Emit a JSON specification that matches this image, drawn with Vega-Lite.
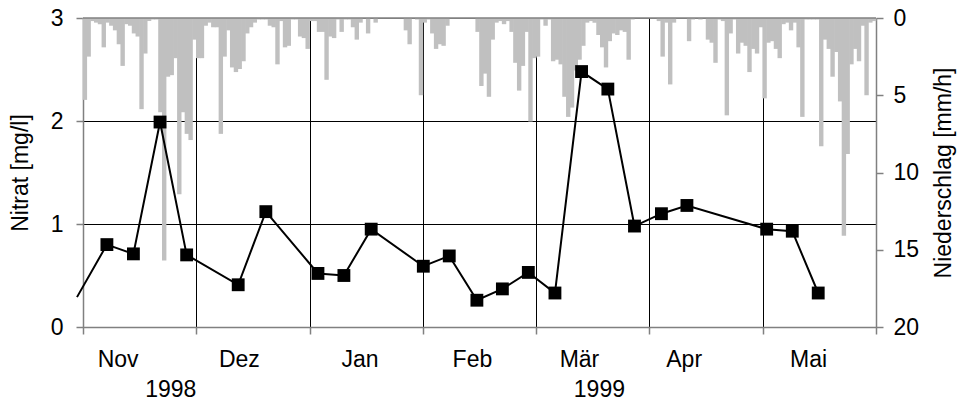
{
  "$schema": "https://vega.github.io/schema/vega-lite/v6.json",
  "width": 793,
  "height": 309,
  "autosize": {"type": "none"},
  "padding": {"left": 83, "top": 18, "right": 82, "bottom": 78},
  "config": {
    "view": {"stroke": "#808080", "strokeWidth": 1},
    "axis": {
      "labelFont": "Liberation Sans",
      "titleFont": "Liberation Sans",
      "labelFontSize": 23,
      "titleFontSize": 23,
      "labelColor": "black",
      "titleColor": "black",
      "titleFontWeight": "normal",
      "labelFlush": false,
      "labelOverlap": false
    }
  },
  "datasets": {
    "rain": [
      {"x": 0.0167, "p": 5.3}, {"x": 0.05, "p": 2.5}, {"x": 0.0833, "p": 0.2}, {"x": 0.1167, "p": 0.3}, {"x": 0.15, "p": 0.4},
      {"x": 0.1833, "p": 1.9}, {"x": 0.2167, "p": 0.3}, {"x": 0.25, "p": 0.5}, {"x": 0.2833, "p": 0.8}, {"x": 0.3167, "p": 1.7},
      {"x": 0.35, "p": 3.1}, {"x": 0.3833, "p": 0.4}, {"x": 0.4167, "p": 0.5}, {"x": 0.45, "p": 1.0}, {"x": 0.4833, "p": 1.2},
      {"x": 0.5167, "p": 5.9}, {"x": 0.55, "p": 2.3}, {"x": 0.5833, "p": 0.2}, {"x": 0.6167, "p": 0.1}, {"x": 0.65, "p": 0.1},
      {"x": 0.6833, "p": 6.1}, {"x": 0.7167, "p": 15.7}, {"x": 0.75, "p": 3.8}, {"x": 0.7833, "p": 3.7}, {"x": 0.8167, "p": 2.6},
      {"x": 0.85, "p": 11.4}, {"x": 0.8833, "p": 6.1}, {"x": 0.9167, "p": 7.5}, {"x": 0.95, "p": 7.9}, {"x": 0.9833, "p": 1.4},
      {"x": 1.0167, "p": 2.6}, {"x": 1.05, "p": 2.6}, {"x": 1.0833, "p": 0.5}, {"x": 1.1167, "p": 0.3}, {"x": 1.15, "p": 0.6},
      {"x": 1.1833, "p": 0.6}, {"x": 1.2167, "p": 7.5}, {"x": 1.25, "p": 2.5}, {"x": 1.2833, "p": 0.8}, {"x": 1.3167, "p": 3.2},
      {"x": 1.35, "p": 3.5}, {"x": 1.3833, "p": 3.3}, {"x": 1.4167, "p": 2.8}, {"x": 1.45, "p": 1.0}, {"x": 1.4833, "p": 0.6},
      {"x": 1.5167, "p": 0.3}, {"x": 1.55, "p": 0.1}, {"x": 1.5833, "p": 0.1}, {"x": 1.6167, "p": 0.1}, {"x": 1.65, "p": 0.5},
      {"x": 1.6833, "p": 0.6}, {"x": 1.7167, "p": 3.0}, {"x": 1.75, "p": 0.2}, {"x": 1.7833, "p": 1.9}, {"x": 1.8167, "p": 1.8},
      {"x": 1.85, "p": 0.1}, {"x": 1.8833, "p": 0.1}, {"x": 1.9167, "p": 1.2}, {"x": 1.95, "p": 1.3}, {"x": 1.9833, "p": 2.0},
      {"x": 2.0167, "p": 0.2}, {"x": 2.05, "p": 0.2}, {"x": 2.0833, "p": 0.9}, {"x": 2.1167, "p": 0.9}, {"x": 2.15, "p": 4.0},
      {"x": 2.1833, "p": 1.2}, {"x": 2.2167, "p": 1.3}, {"x": 2.25, "p": 0.1}, {"x": 2.2833, "p": 0.9}, {"x": 2.3167, "p": 0.1},
      {"x": 2.35, "p": 0.1}, {"x": 2.3833, "p": 0.6}, {"x": 2.4167, "p": 1.4}, {"x": 2.45, "p": 0.3}, {"x": 2.5167, "p": 1.0},
      {"x": 2.5833, "p": 0.3}, {"x": 2.85, "p": 0.8}, {"x": 2.8833, "p": 1.7}, {"x": 2.95, "p": 0.1}, {"x": 2.9833, "p": 5.0},
      {"x": 3.0167, "p": 0.3}, {"x": 3.05, "p": 0.1}, {"x": 3.0833, "p": 1.0}, {"x": 3.1167, "p": 2.0}, {"x": 3.15, "p": 1.7},
      {"x": 3.1833, "p": 1.8}, {"x": 3.2167, "p": 0.5}, {"x": 3.4833, "p": 0.9}, {"x": 3.5167, "p": 4.4}, {"x": 3.55, "p": 3.6},
      {"x": 3.5833, "p": 5.1}, {"x": 3.6167, "p": 1.4}, {"x": 3.65, "p": 0.3}, {"x": 3.6833, "p": 0.2}, {"x": 3.7167, "p": 0.4},
      {"x": 3.75, "p": 0.2}, {"x": 3.7833, "p": 0.9}, {"x": 3.8167, "p": 2.9}, {"x": 3.85, "p": 4.7}, {"x": 3.8833, "p": 3.1},
      {"x": 3.9167, "p": 0.9}, {"x": 3.95, "p": 6.7}, {"x": 3.9833, "p": 2.6},
      {"x": 4.0167, "p": 2.5}, {"x": 4.05, "p": 0.1}, {"x": 4.0833, "p": 0.5}, {"x": 4.1167, "p": 0.1}, {"x": 4.15, "p": 2.8},
      {"x": 4.1833, "p": 2.7}, {"x": 4.2167, "p": 3.0}, {"x": 4.25, "p": 5.1}, {"x": 4.2833, "p": 6.4}, {"x": 4.3167, "p": 5.8},
      {"x": 4.35, "p": 3.4}, {"x": 4.3833, "p": 2.7}, {"x": 4.4167, "p": 1.8}, {"x": 4.45, "p": 0.3}, {"x": 4.4833, "p": 0.2},
      {"x": 4.5167, "p": 0.3}, {"x": 4.55, "p": 1.1}, {"x": 4.5833, "p": 1.9}, {"x": 4.6167, "p": 3.2}, {"x": 4.65, "p": 1.5},
      {"x": 4.6833, "p": 1.0}, {"x": 4.7167, "p": 1.1}, {"x": 4.75, "p": 0.8}, {"x": 4.7833, "p": 0.9}, {"x": 4.8167, "p": 2.7},
      {"x": 4.85, "p": 0.1},
      {"x": 5.0833, "p": 0.2}, {"x": 5.1167, "p": 2.5}, {"x": 5.15, "p": 0.3}, {"x": 5.1833, "p": 4.3}, {"x": 5.2167, "p": 0.3},
      {"x": 5.35, "p": 1.5}, {"x": 5.3833, "p": 0.1}, {"x": 5.45, "p": 0.1}, {"x": 5.5167, "p": 1.4}, {"x": 5.55, "p": 1.6},
      {"x": 5.5833, "p": 2.9}, {"x": 5.6167, "p": 0.1}, {"x": 5.65, "p": 0.2}, {"x": 5.6833, "p": 6.3}, {"x": 5.7167, "p": 1.0},
      {"x": 5.75, "p": 0.1}, {"x": 5.7833, "p": 2.3}, {"x": 5.8167, "p": 1.6}, {"x": 5.85, "p": 1.8}, {"x": 5.8833, "p": 3.5},
      {"x": 5.9167, "p": 2.0}, {"x": 5.95, "p": 2.3}, {"x": 5.9833, "p": 0.6},
      {"x": 6.0167, "p": 5.2}, {"x": 6.05, "p": 1.6}, {"x": 6.0833, "p": 1.5}, {"x": 6.1167, "p": 2.0}, {"x": 6.15, "p": 2.6},
      {"x": 6.1833, "p": 0.4}, {"x": 6.2167, "p": 0.3}, {"x": 6.25, "p": 0.8}, {"x": 6.2833, "p": 0.3}, {"x": 6.3167, "p": 1.9},
      {"x": 6.35, "p": 6.4}, {"x": 6.3833, "p": 0.1}, {"x": 6.4167, "p": 0.1}, {"x": 6.45, "p": 0.1}, {"x": 6.4833, "p": 0.1},
      {"x": 6.5167, "p": 8.3}, {"x": 6.55, "p": 1.4}, {"x": 6.5833, "p": 2.0}, {"x": 6.6167, "p": 3.8}, {"x": 6.65, "p": 2.2},
      {"x": 6.6833, "p": 5.4}, {"x": 6.7167, "p": 14.1}, {"x": 6.75, "p": 8.8}, {"x": 6.7833, "p": 3.0}, {"x": 6.8167, "p": 2.0},
      {"x": 6.85, "p": 2.8}, {"x": 6.8833, "p": 0.5}, {"x": 6.9167, "p": 5.0}, {"x": 6.95, "p": 0.3}, {"x": 6.9833, "p": 0.2}
    ],
    "nitrat": [
      {"x": -0.053, "n": 0.29},
      {"x": 0.211, "n": 0.80},
      {"x": 0.445, "n": 0.71},
      {"x": 0.680, "n": 1.99},
      {"x": 0.915, "n": 0.70},
      {"x": 1.370, "n": 0.41},
      {"x": 1.614, "n": 1.12},
      {"x": 2.074, "n": 0.52},
      {"x": 2.303, "n": 0.50},
      {"x": 2.544, "n": 0.95},
      {"x": 3.004, "n": 0.59},
      {"x": 3.233, "n": 0.69},
      {"x": 3.477, "n": 0.26},
      {"x": 3.702, "n": 0.37},
      {"x": 3.931, "n": 0.53},
      {"x": 4.166, "n": 0.33},
      {"x": 4.401, "n": 2.48},
      {"x": 4.633, "n": 2.31},
      {"x": 4.868, "n": 0.98},
      {"x": 5.106, "n": 1.10},
      {"x": 5.331, "n": 1.18},
      {"x": 6.035, "n": 0.95},
      {"x": 6.261, "n": 0.93},
      {"x": 6.490, "n": 0.33}
    ]
  },
  "layer": [
    {
      "data": {"name": "rain"},
      "mark": {"type": "bar", "color": "#c0c0c0", "size": 4.4},
      "encoding": {
        "x": {
          "field": "x", "type": "quantitative",
          "scale": {"domain": [0, 7], "nice": false, "zero": false, "padding": 0},
          "axis": {
            "orient": "bottom", "values": [0, 1, 2, 3, 4, 5, 6, 7], "labels": false, "title": null,
            "tickSize": 7, "tickColor": "#808080", "tickWidth": 1.5,
            "domainColor": "#808080", "domainWidth": 1.5,
            "grid": true, "gridWidth": 1, "gridOpacity": 1,
            "gridColor": {"condition": {"test": "datum.value > 0 && datum.value < 7", "value": "black"}, "value": "transparent"}
          }
        },
        "y": {
          "field": "p", "type": "quantitative",
          "scale": {"domain": [0, 20], "reverse": true, "nice": false},
          "axis": {
            "orient": "right", "values": [0, 5, 10, 15, 20], "title": "Niederschlag [mm/h]",
            "titleAngle": 270, "titleBaseline": "top", "titlePadding": 14,
            "grid": false, "tickSize": 7, "tickColor": "#808080", "tickWidth": 1.5,
            "domainColor": "#808080", "domainWidth": 1.5, "labelPadding": 10
          }
        }
      }
    },
    {
      "data": {"name": "nitrat"},
      "mark": {"type": "line", "color": "black", "strokeWidth": 2},
      "encoding": {
        "x": {
          "field": "x", "type": "quantitative",
          "scale": {"domain": [0, 7], "nice": false, "zero": false, "padding": 0},
          "axis": {
            "orient": "bottom", "values": [0.306, 1.376, 2.441, 3.433, 4.378, 5.302, 6.4],
            "labelExpr": "['Nov','Dez','Jan','Feb','Mär','Apr','Mai'][floor(datum.value)]",
            "ticks": false, "domain": false, "grid": false, "title": null, "labelPadding": 21
          }
        },
        "y": {
          "field": "n", "type": "quantitative",
          "scale": {"domain": [0, 3], "nice": false},
          "axis": {
            "orient": "left", "values": [0, 1, 2, 3], "title": "Nitrat [mg/l]", "titlePadding": 18,
            "tickSize": 7, "tickColor": "#808080", "tickWidth": 1.5,
            "domainColor": "#808080", "domainWidth": 1.5, "labelPadding": 13,
            "grid": true, "gridWidth": 1, "gridOpacity": 1,
            "gridColor": {"condition": {"test": "datum.value > 0 && datum.value < 3", "value": "black"}, "value": "transparent"}
          }
        }
      }
    },
    {
      "data": {"name": "nitrat"},
      "transform": [{"filter": "datum.x >= 0"}],
      "mark": {"type": "point", "shape": "square", "filled": true, "color": "black", "opacity": 1, "size": 165},
      "encoding": {
        "x": {
          "field": "x", "type": "quantitative",
          "scale": {"domain": [0, 7], "nice": false, "zero": false, "padding": 0},
          "axis": {
            "orient": "bottom", "values": [0.77, 4.554],
            "labelExpr": "datum.value < 2 ? '1998' : '1999'",
            "ticks": false, "domain": false, "grid": false, "title": null, "labelPadding": 51
          }
        },
        "y": {
          "field": "n", "type": "quantitative",
          "scale": {"domain": [0, 3], "nice": false},
          "axis": null
        }
      }
    },
    {
      "data": {"values": [{}]},
      "mark": {"type": "rule", "color": "#808080", "strokeWidth": 1.5},
      "encoding": {
        "y": {"datum": 0, "type": "quantitative", "scale": {"domain": [0, 20], "reverse": true, "nice": false}, "axis": null}
      }
    }
  ],
  "resolve": {"scale": {"y": "independent"}, "axis": {"x": "independent", "y": "independent"}}
}
